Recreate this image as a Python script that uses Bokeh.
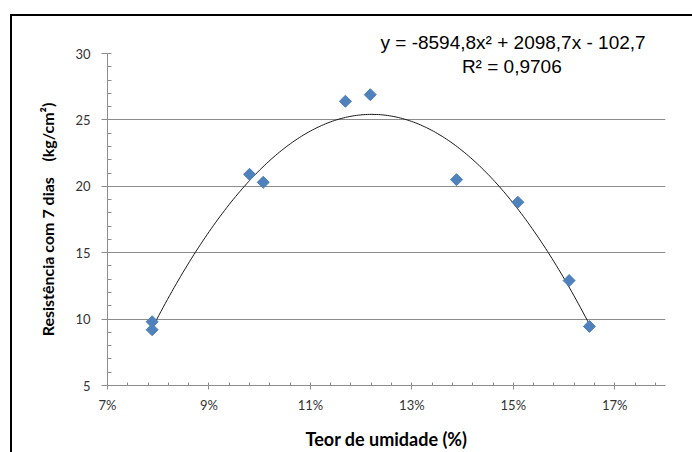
import numpy as np
from bokeh.plotting import figure
from bokeh.models import (Label, NumeralTickFormatter, FixedTicker, Range1d,
                          SingleIntervalTicker, InlineStyleSheet)
from bokeh.embed import file_html
from bokeh.resources import INLINE

# ---- data ----
moisture = [0.0788, 0.0788, 0.0980, 0.1007, 0.1169, 0.1218, 0.1388, 0.1509, 0.1610, 0.1650]
strength = [9.8, 9.2, 20.9, 20.3, 26.4, 26.9, 20.5, 18.8, 12.9, 9.45]

# polynomial trendline shown on the chart: y = a x^2 + b x + c
coef_a, coef_b, coef_c = -8594.8, 2098.7, -102.7
equation_text = "y = -8594,8x² + 2098,7x - 102,7"
r2_text = "R² = 0,9706"

x_major_ticks = [0.07, 0.09, 0.11, 0.13, 0.15, 0.17]
y_range = (5, 30)
x_range = (0.07, 0.18)

x_title = "Teor de umidade (%)"
y_title = "Resistência com 7 dias\u00a0\u00a0\u00a0\u00a0(kg/cm²)"

# ---- figure ----
p = figure(width=692, height=452, output_backend="svg", toolbar_location=None,
           x_range=Range1d(*x_range), y_range=Range1d(*y_range),
           min_border_left=107, min_border_right=27, min_border_top=53,
           min_border_bottom=67)
p.outline_line_color = None
p.background_fill_color = "white"
p.border_fill_color = "white"

# outer chart border (left/top visible, rest outside the window)
p.stylesheets = [InlineStyleSheet(css="""
:host::after {
  content: ""; position: absolute; left: 10px; top: 14px;
  width: 700px; height: 460px;
  border-left: 2px solid #000; border-top: 2px solid #000;
  pointer-events: none; box-sizing: border-box;
}
""")]

# trendline equation, shown above the plot area
p.title.text = equation_text
p.title.align = "left"
p.title.offset = 273
p.title.standoff = 1
p.title.text_font = "Liberation Sans"
p.title.text_font_style = "normal"
p.title.text_font_size = "19px"
p.title.text_color = "#000000"

grid_col = "#8c8c8c"
tick_font = "Lato"

# x axis
minor = [round(0.07 + 0.004 * i, 4) for i in range(0, 28)]
p.xaxis.ticker = FixedTicker(ticks=x_major_ticks, minor_ticks=minor)
p.xaxis.formatter = NumeralTickFormatter(format="0%")
p.xgrid.visible = False

# y axis
p.yaxis.ticker = SingleIntervalTicker(interval=5, num_minor_ticks=5)
p.ygrid.ticker = SingleIntervalTicker(interval=5)
p.ygrid.grid_line_color = grid_col
p.ygrid.grid_line_width = 1

for ax in (p.xaxis[0], p.yaxis[0]):
    ax.axis_line_color = grid_col
    ax.major_tick_line_color = grid_col
    ax.minor_tick_line_color = grid_col
    ax.major_label_text_font = tick_font
    ax.major_label_text_font_size = "13px"
    ax.major_label_text_color = "#333333"
    ax.axis_label_text_font = "Lato"
    ax.axis_label_text_font_style = "bold"
    ax.axis_label_text_color = "#000000"

p.xaxis.major_tick_in = 0
p.xaxis.major_tick_out = 4
p.xaxis.minor_tick_in = 3
p.xaxis.minor_tick_out = 0
p.xaxis.major_label_standoff = 7
p.xaxis.axis_label = x_title
p.xaxis.axis_label_text_font_size = "18px"
p.xaxis.axis_label_standoff = 12

p.yaxis.major_tick_in = 0
p.yaxis.major_tick_out = 6
p.yaxis.minor_tick_in = 4
p.yaxis.minor_tick_out = 0
p.yaxis.major_label_standoff = 11
p.yaxis.axis_label = y_title
p.yaxis.axis_label_text_font_size = "16px"
p.yaxis.axis_label_standoff = 15

# trendline
xs = np.linspace(min(moisture), max(moisture), 200)
ys = coef_a * xs ** 2 + coef_b * xs + coef_c
p.line(xs, ys, line_color="#1a1a1a", line_width=1)

# data points (diamonds)
p.scatter(moisture, strength, marker="square", angle=np.pi / 4, size=8.5,
          fill_color="#4F81BD", line_color="#4F81BD")

# R² label
p.add_layout(Label(x=0.1497, y=29.0, text=r2_text, text_align="center",
                   text_baseline="alphabetic", text_font="Liberation Sans",
                   text_font_size="19px", text_color="#000000"))

open("out.html", "w").write(file_html(p, INLINE))
